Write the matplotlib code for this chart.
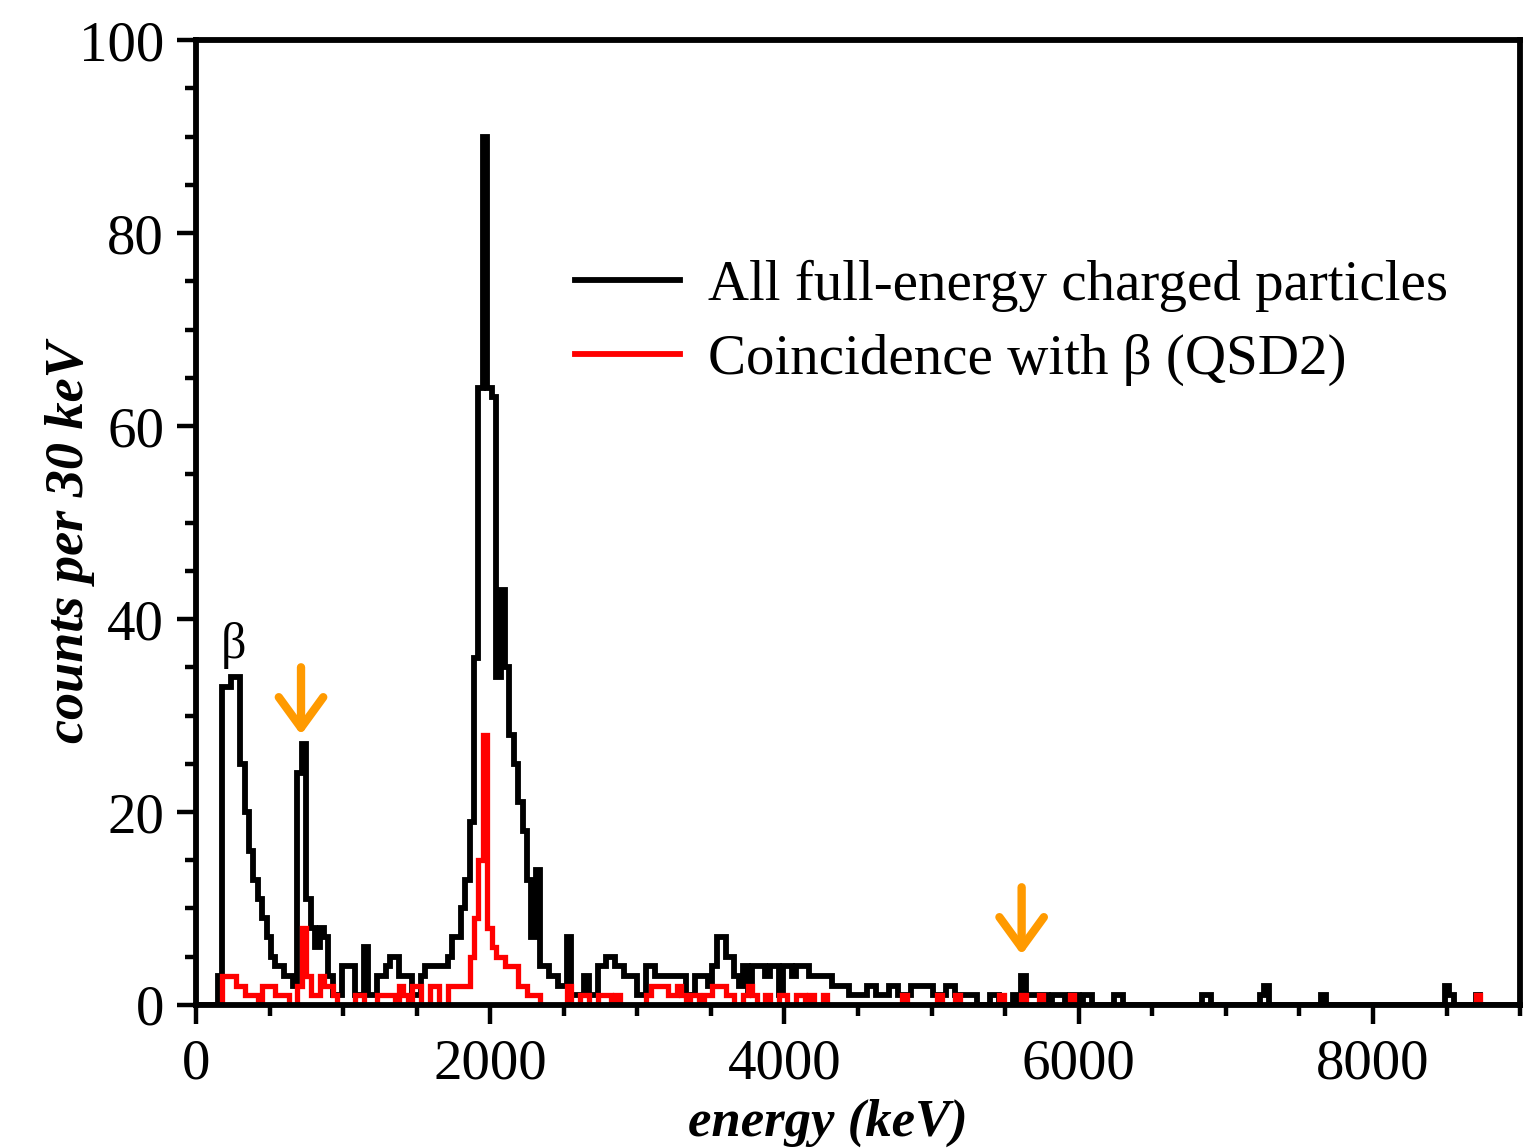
import numpy as np
import matplotlib.pyplot as plt
from matplotlib.lines import Line2D
from matplotlib.ticker import MultipleLocator

plt.rcParams['font.family'] = ['Liberation Serif', 'DejaVu Serif']

# counts per 30 keV bin, bins start at 0 keV (one row = 600 keV)
BIN_KEV = 30
all_counts = [
    0, 0, 0, 0, 0, 3, 33, 33, 34, 34, 25, 20, 16, 13, 11, 9, 7, 5, 4, 4,
    3, 3, 2, 24, 27, 11, 8, 6, 8, 7, 3, 1, 1, 4, 4, 4, 1, 1, 6, 1,
    1, 3, 3, 4, 5, 5, 3, 3, 3, 1, 1, 3, 4, 4, 4, 4, 4, 5, 7, 7,
    10, 13, 19, 36, 64, 90, 64, 63, 34, 43, 35, 28, 25, 21, 18, 13, 7, 14, 4, 4,
    3, 3, 2, 2, 7, 1, 1, 1, 3, 1, 1, 4, 4, 5, 5, 4, 4, 3, 3, 3,
    1, 1, 4, 4, 3, 3, 3, 3, 3, 3, 3, 1, 1, 3, 3, 3, 2, 4, 7, 7,
    5, 5, 3, 2, 4, 1, 4, 4, 4, 3, 4, 4, 1, 4, 4, 3, 4, 4, 4, 3,
    3, 3, 3, 3, 2, 2, 2, 2, 1, 1, 1, 1, 2, 2, 1, 1, 1, 2, 2, 1,
    1, 1, 2, 2, 2, 2, 2, 1, 1, 1, 2, 2, 1, 1, 1, 1, 1, 0, 0, 0,
    1, 1, 0, 0, 0, 1, 0, 3, 1, 1, 1, 1, 1, 0, 1, 1, 1, 0, 1, 1,
    0, 1, 1, 0, 0, 0, 0, 0, 1, 1, 0, 0, 0, 0, 0, 0, 0, 0, 0, 0,
    0, 0, 0, 0, 0, 0, 0, 0, 1, 1, 0, 0, 0, 0, 0, 0, 0, 0, 0, 0,
    0, 1, 2, 0, 0, 0, 0, 0, 0, 0, 0, 0, 0, 0, 0, 1, 0, 0, 0, 0,
    0, 0, 0, 0, 0, 0, 0, 0, 0, 0, 0, 0, 0, 0, 0, 0, 0, 0, 0, 0,
    0, 0, 0, 2, 1, 0, 0, 0, 0, 0, 1, 0, 0, 0, 0, 0, 0, 0, 0, 0,
]
beta_counts = [
    0, 0, 0, 0, 0, 0, 3, 3, 3, 2, 2, 1, 1, 1, 0, 2, 2, 2, 1, 1,
    1, 0, 0, 2, 8, 3, 1, 1, 3, 2, 2, 1, 0, 0, 0, 0, 1, 1, 0, 0,
    0, 1, 1, 1, 1, 0, 2, 1, 0, 2, 2, 0, 0, 2, 2, 0, 0, 2, 2, 2,
    2, 2, 5, 9, 15, 28, 8, 6, 5, 5, 4, 4, 4, 2, 2, 1, 1, 1, 0, 0,
    0, 0, 0, 0, 2, 0, 0, 1, 1, 0, 0, 1, 1, 1, 0, 1, 0, 0, 0, 0,
    0, 0, 1, 2, 2, 2, 2, 1, 1, 2, 1, 0, 1, 1, 0, 1, 1, 2, 2, 2,
    1, 1, 0, 0, 1, 2, 1, 0, 0, 1, 0, 0, 1, 1, 0, 0, 1, 1, 0, 1,
    0, 0, 1, 0, 0, 0, 0, 0, 0, 0, 0, 0, 0, 0, 0, 0, 0, 0, 0, 0,
    1, 0, 0, 0, 0, 0, 0, 0, 1, 0, 0, 0, 1, 0, 0, 0, 0, 0, 0, 0,
    0, 0, 1, 0, 0, 0, 0, 1, 0, 0, 0, 1, 0, 0, 0, 0, 0, 0, 1, 0,
    0, 0, 0, 0, 0, 0, 0, 0, 0, 0, 0, 0, 0, 0, 0, 0, 0, 0, 0, 0,
    0, 0, 0, 0, 0, 0, 0, 0, 0, 0, 0, 0, 0, 0, 0, 0, 0, 0, 0, 0,
    0, 0, 0, 0, 0, 0, 0, 0, 0, 0, 0, 0, 0, 0, 0, 0, 0, 0, 0, 0,
    0, 0, 0, 0, 0, 0, 0, 0, 0, 0, 0, 0, 0, 0, 0, 0, 0, 0, 0, 0,
    0, 0, 0, 0, 0, 0, 0, 0, 0, 0, 1, 0, 0, 0, 0, 0, 0, 0, 0, 0,
]
series_labels = ['All full-energy charged particles', 'Coincidence with β (QSD2)']
arrow_energies = [714, 5612]
arrow_tips = [28.0, 5.2]

edges = np.arange(len(all_counts) + 1) * BIN_KEV

fig = plt.figure(figsize=(15.37, 11.48), dpi=100)
ax = fig.add_axes([0.1275, 0.1246, 0.8615, 0.8404])

ax.stairs(all_counts, edges, color='black', lw=4.2, zorder=2)
ax.stairs(beta_counts, edges, color='red', lw=3.8, zorder=2.1)

for e, tip in zip(arrow_energies, arrow_tips):
    ax.annotate('', xy=(e, tip), xytext=(e, tip + 7),
                arrowprops=dict(arrowstyle='->, head_length=1.1, head_width=0.8',
                                color='#FF9A00', lw=6, mutation_scale=20,
                                shrinkA=0, shrinkB=0))

ax.text(252, 37.3, 'β', fontsize=36, ha='center', va='center')

ax.set_xlim(0, 9000)
ax.set_ylim(0, 100)
ax.set_xticks([0, 2000, 4000, 6000, 8000])
ax.xaxis.set_minor_locator(MultipleLocator(500))
ax.set_yticks([0, 20, 40, 60, 80, 100])
ax.yaxis.set_minor_locator(MultipleLocator(5))
ax.tick_params(which='both', direction='out', top=False, right=False,
               labelsize=41, width=3.2)
ax.tick_params(which='major', length=14)
ax.tick_params(axis='y', which='major', pad=9)
ax.tick_params(axis='x', which='major', pad=10)
ax.tick_params(which='minor', length=8)
for sp in ax.spines.values():
    sp.set_linewidth(4.2)

ax.set_xlabel('energy (keV)', fontsize=38, fontweight='bold',
              fontstyle='italic')
ax.xaxis.set_label_coords(0.477, -0.097)
ax.set_ylabel('counts per 30 keV', fontsize=39, fontweight='bold',
              fontstyle='italic')
ax.yaxis.set_label_coords(-0.076, 0.48)

handles = [Line2D([], [], color='black', lw=4.2),
           Line2D([], [], color='red', lw=4.2)]
ax.legend(handles, series_labels, loc='upper left',
          bbox_to_anchor=(0.286, 0.772), frameon=False, fontsize=41,
          handlelength=1.85, handletextpad=0.5, labelspacing=0.38,
          borderpad=0, borderaxespad=0)

fig.savefig('out.png', dpi=100)
